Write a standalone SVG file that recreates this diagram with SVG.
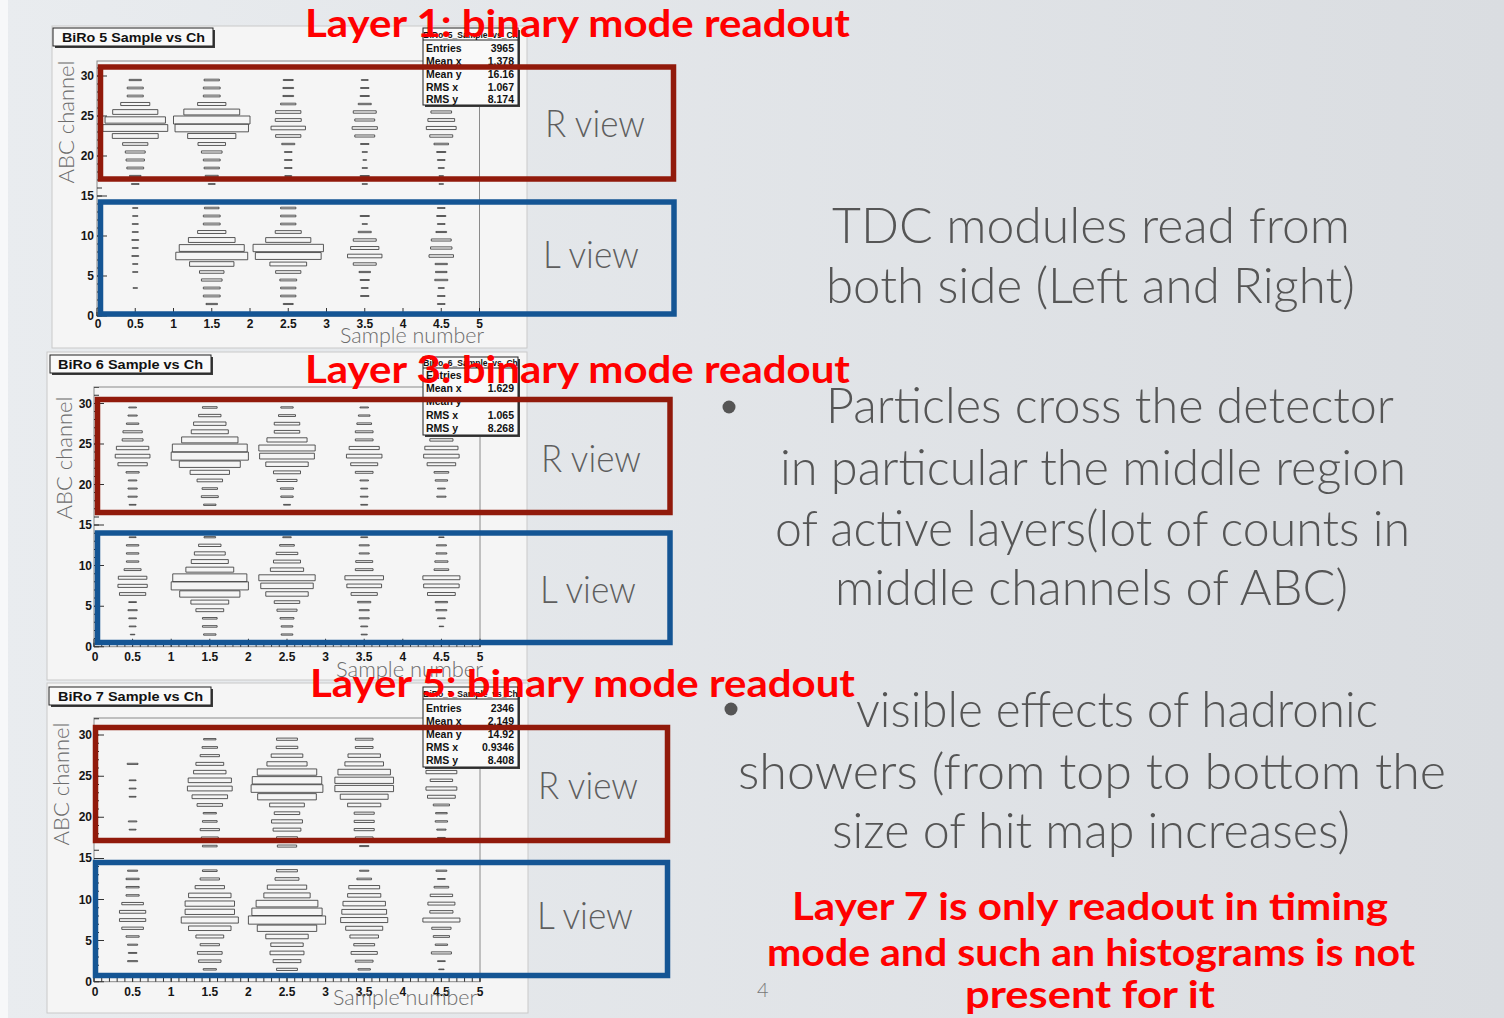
<svg xmlns="http://www.w3.org/2000/svg" xmlns:xlink="http://www.w3.org/1999/xlink" width="1504" height="1018" viewBox="0 0 1504 1018">
<style>
.bx{fill:none;stroke:#3c3c3c;stroke-width:.85;vector-effect:non-scaling-stroke}
.pn{fill:#f5f5f5;stroke:#c9c9c9;stroke-width:1}
.fr{fill:none;stroke:#8a8a8a;stroke-width:1}
.tick{fill:none;stroke:#333}
.tk{font-family:'Liberation Sans',Arial,sans-serif;font-weight:bold;font-size:12px;fill:#151515}
.ty{text-anchor:end}
.tx{text-anchor:middle}
.ax{font-family:Lato,'Open Sans',sans-serif;font-weight:300;font-size:22px;fill:#6c6c6c}
.tb{fill:#f9f9f9;stroke:#222;stroke-width:1}
.sh{fill:#3a3a3a}
.tt{font-family:'Liberation Sans',Arial,sans-serif;font-weight:bold;font-size:13px;fill:#111}
.st{font-family:'Liberation Sans',Arial,sans-serif;font-weight:bold;font-size:10.5px;fill:#111}
.sm{font-family:'Liberation Sans',Arial,sans-serif;font-weight:bold;font-size:8.5px;fill:#111;text-anchor:middle}
.sv{text-anchor:end}
.rb{fill:none;stroke:#911a0b;stroke-width:5.5}
.lb{fill:none;stroke:#145594;stroke-width:5.5}
.vw{font-family:Lato,'Open Sans',sans-serif;font-weight:300;font-size:38px;fill:#5e5e5e}
.red{font-family:Lato,'DejaVu Sans',sans-serif;font-weight:700;font-size:38px;fill:#ff0000}
.gt{font-family:Lato,'Open Sans',sans-serif;font-weight:300;font-size:50px;fill:#555555}
</style>
<defs>
<linearGradient id="bg" x1="0" y1="0" x2="1" y2="0">
<stop offset="0" stop-color="#e9ecef"/>
<stop offset="1" stop-color="#dadde1"/>
</linearGradient>
<rect id="b" class="bx" x="-.5" y="-.5" width="1" height="1"/>
</defs>

<rect x="0" y="0" width="1504" height="1018" fill="url(#bg)"/>
<rect x="0" y="0" width="8" height="1018" fill="#f7f8f9"/>

<!-- Panel 1 -->
<g id="panel1">
<rect class="pn" x="52" y="26" width="475" height="322"/>
<rect class="fr" x="97" y="61" width="382.5" height="255"/>
<path class="tick" stroke-width="4" stroke-dasharray="1 6.65" d="M96.5 314H481"/>
<path class="tick" stroke-width="8" stroke-dasharray="1 37.25" d="M96.5 312H481"/>
<path class="tick" stroke-width="5" stroke-dasharray="1 7" d="M99.5 316.5V61"/>
<path class="tick" stroke-width="10" stroke-dasharray="1 39" d="M102 316.5V61"/>
<g class="tk ty">
<text x="94" y="80">30</text><text x="94" y="120">25</text><text x="94" y="160">20</text><text x="94" y="200">15</text><text x="94" y="240">10</text><text x="94" y="280">5</text><text x="94" y="320">0</text>
</g>
<g class="tk tx">
<text x="98" y="328">0</text><text x="135.3" y="328">0.5</text><text x="173.5" y="328">1</text><text x="211.8" y="328">1.5</text><text x="250" y="328">2</text><text x="288.3" y="328">2.5</text><text x="326.5" y="328">3</text><text x="364.8" y="328">3.5</text><text x="403" y="328">4</text><text x="441.3" y="328">4.5</text><text x="479.5" y="328">5</text>
</g>
<text class="ax" transform="translate(74 122) rotate(-90)" text-anchor="middle">ABC channel</text>
<text class="ax" x="340" y="343" textLength="144" lengthAdjust="spacingAndGlyphs">Sample number</text>
<g transform="translate(97 316) scale(76.5 -8)">
<g transform="translate(.5 .5)">
<use href="#b" transform="translate(0 29)scale(.16)"/><use href="#b" transform="translate(0 28)scale(.21)"/><use href="#b" transform="translate(0 27)scale(.21)"/><use href="#b" transform="translate(0 26)scale(.38)"/><use href="#b" transform="translate(0 25)scale(.59)"/><use href="#b" transform="translate(0 24)scale(.79)"/><use href="#b" transform="translate(0 23)scale(.85)"/><use href="#b" transform="translate(0 22)scale(.6)"/><use href="#b" transform="translate(0 21)scale(.33)"/><use href="#b" transform="translate(0 20)scale(.26)"/><use href="#b" transform="translate(0 19)scale(.24)"/><use href="#b" transform="translate(0 18)scale(.22)"/><use href="#b" transform="translate(0 17)scale(.15)"/><use href="#b" transform="translate(0 16)scale(.1)"/><use href="#b" transform="translate(0 13)scale(.07)"/><use href="#b" transform="translate(0 12)scale(.07)"/><use href="#b" transform="translate(0 11)scale(.08)"/><use href="#b" transform="translate(0 10)scale(.08)"/><use href="#b" transform="translate(0 9)scale(.09)"/><use href="#b" transform="translate(0 8)scale(.08)"/><use href="#b" transform="translate(0 7)scale(.09)"/><use href="#b" transform="translate(0 6)scale(.07)"/><use href="#b" transform="translate(0 5)scale(.07)"/><use href="#b" transform="translate(0 3)scale(.06)"/>
</g>
<g transform="translate(1.5 .5)">
<use href="#b" transform="translate(0 29)scale(.2)"/><use href="#b" transform="translate(0 28)scale(.22)"/><use href="#b" transform="translate(0 27)scale(.22)"/><use href="#b" transform="translate(0 26)scale(.37)"/><use href="#b" transform="translate(0 25)scale(.73)"/><use href="#b" transform="translate(0 24)scale(1)"/><use href="#b" transform="translate(0 23)scale(.96)"/><use href="#b" transform="translate(0 22)scale(.63)"/><use href="#b" transform="translate(0 21)scale(.36)"/><use href="#b" transform="translate(0 20)scale(.27)"/><use href="#b" transform="translate(0 19)scale(.22)"/><use href="#b" transform="translate(0 18)scale(.2)"/><use href="#b" transform="translate(0 17)scale(.17)"/><use href="#b" transform="translate(0 16)scale(.09)"/><use href="#b" transform="translate(0 13)scale(.19)"/><use href="#b" transform="translate(0 12)scale(.22)"/><use href="#b" transform="translate(0 11)scale(.22)"/><use href="#b" transform="translate(0 10)scale(.37)"/><use href="#b" transform="translate(0 9)scale(.61)"/><use href="#b" transform="translate(0 8)scale(.85)"/><use href="#b" transform="translate(0 7)scale(.94)"/><use href="#b" transform="translate(0 6)scale(.58)"/><use href="#b" transform="translate(0 5)scale(.32)"/><use href="#b" transform="translate(0 4)scale(.27)"/><use href="#b" transform="translate(0 3)scale(.22)"/><use href="#b" transform="translate(0 2)scale(.22)"/><use href="#b" transform="translate(0 1)scale(.15)"/>
</g>
<g transform="translate(2.5 .5)">
<use href="#b" transform="translate(0 29)scale(.13)"/><use href="#b" transform="translate(0 28)scale(.14)"/><use href="#b" transform="translate(0 27)scale(.14)"/><use href="#b" transform="translate(0 26)scale(.2)"/><use href="#b" transform="translate(0 25)scale(.33)"/><use href="#b" transform="translate(0 24)scale(.34)"/><use href="#b" transform="translate(0 23)scale(.45)"/><use href="#b" transform="translate(0 22)scale(.33)"/><use href="#b" transform="translate(0 21)scale(.17)"/><use href="#b" transform="translate(0 20)scale(.1)"/><use href="#b" transform="translate(0 19)scale(.1)"/><use href="#b" transform="translate(0 18)scale(.1)"/><use href="#b" transform="translate(0 17)scale(.09)"/><use href="#b" transform="translate(0 13)scale(.2)"/><use href="#b" transform="translate(0 12)scale(.2)"/><use href="#b" transform="translate(0 11)scale(.2)"/><use href="#b" transform="translate(0 10)scale(.34)"/><use href="#b" transform="translate(0 9)scale(.59)"/><use href="#b" transform="translate(0 8)scale(.92)"/><use href="#b" transform="translate(0 7)scale(.86)"/><use href="#b" transform="translate(0 6)scale(.48)"/><use href="#b" transform="translate(0 5)scale(.33)"/><use href="#b" transform="translate(0 4)scale(.22)"/><use href="#b" transform="translate(0 3)scale(.2)"/><use href="#b" transform="translate(0 2)scale(.2)"/><use href="#b" transform="translate(0 1)scale(.13)"/>
</g>
<g transform="translate(3.5 .5)">
<use href="#b" transform="translate(0 29)scale(.09)"/><use href="#b" transform="translate(0 28)scale(.11)"/><use href="#b" transform="translate(0 27)scale(.12)"/><use href="#b" transform="translate(0 26)scale(.17)"/><use href="#b" transform="translate(0 25)scale(.3)"/><use href="#b" transform="translate(0 24)scale(.26)"/><use href="#b" transform="translate(0 23)scale(.33)"/><use href="#b" transform="translate(0 22)scale(.26)"/><use href="#b" transform="translate(0 21)scale(.11)"/><use href="#b" transform="translate(0 20)scale(.07)"/><use href="#b" transform="translate(0 19)scale(.05)"/><use href="#b" transform="translate(0 18)scale(.07)"/><use href="#b" transform="translate(0 17)scale(.12)"/><use href="#b" transform="translate(0 16)scale(.07)"/><use href="#b" transform="translate(0 12)scale(.12)"/><use href="#b" transform="translate(0 11)scale(.07)"/><use href="#b" transform="translate(0 10)scale(.17)"/><use href="#b" transform="translate(0 9)scale(.3)"/><use href="#b" transform="translate(0 8)scale(.37)"/><use href="#b" transform="translate(0 7)scale(.45)"/><use href="#b" transform="translate(0 6)scale(.3)"/><use href="#b" transform="translate(0 5)scale(.15)"/><use href="#b" transform="translate(0 4)scale(.12)"/><use href="#b" transform="translate(0 3)scale(.09)"/><use href="#b" transform="translate(0 2)scale(.11)"/>
</g>
<g transform="translate(4.5 .5)">
<use href="#b" transform="translate(0 25)scale(.27)"/><use href="#b" transform="translate(0 24)scale(.35)"/><use href="#b" transform="translate(0 23)scale(.39)"/><use href="#b" transform="translate(0 22)scale(.3)"/><use href="#b" transform="translate(0 21)scale(.19)"/><use href="#b" transform="translate(0 20)scale(.12)"/><use href="#b" transform="translate(0 19)scale(.1)"/><use href="#b" transform="translate(0 18)scale(.08)"/><use href="#b" transform="translate(0 17)scale(.06)"/><use href="#b" transform="translate(0 16)scale(.06)"/><use href="#b" transform="translate(0 13)scale(.1)"/><use href="#b" transform="translate(0 12)scale(.12)"/><use href="#b" transform="translate(0 11)scale(.1)"/><use href="#b" transform="translate(0 10)scale(.14)"/><use href="#b" transform="translate(0 9)scale(.26)"/><use href="#b" transform="translate(0 8)scale(.28)"/><use href="#b" transform="translate(0 7)scale(.32)"/><use href="#b" transform="translate(0 6)scale(.16)"/><use href="#b" transform="translate(0 5)scale(.15)"/><use href="#b" transform="translate(0 4)scale(.17)"/><use href="#b" transform="translate(0 3)scale(.08)"/><use href="#b" transform="translate(0 2)scale(.1)"/><use href="#b" transform="translate(0 1)scale(.1)"/>
</g>
</g>
<rect class="sh" x="55" y="30" width="160" height="18"/>
<rect class="tb" x="53" y="28" width="160" height="18"/>
<text class="tt" x="62" y="41.5" textLength="143" lengthAdjust="spacingAndGlyphs">BiRo 5 Sample vs Ch</text>
<rect class="sh" x="425" y="30" width="95" height="77"/>
<rect class="tb" x="423" y="28" width="95" height="77"/>
<path d="M423 40H518" stroke="#222" stroke-width="1"/>
<text class="sm" x="470.5" y="37.5">BiRo_5_Sample_vs_Ch</text>
<g class="st">
<text x="426" y="52">Entries</text><text class="sv" x="514" y="52">3965</text>
<text x="426" y="64.5">Mean x</text><text class="sv" x="514" y="64.5">1.378</text>
<text x="426" y="77.5">Mean y</text><text class="sv" x="514" y="77.5">16.16</text>
<text x="426" y="90.5">RMS x</text><text class="sv" x="514" y="90.5">1.067</text>
<text x="426" y="102.5">RMS y</text><text class="sv" x="514" y="102.5">8.174</text>
</g>
</g>

<!-- Panel 2 -->
<g id="panel2">
<rect class="pn" x="47" y="352" width="480" height="328"/>
<rect class="fr" x="94" y="387" width="386" height="259.7"/>
<path class="tick" stroke-width="4" stroke-dasharray="1 6.72" d="M93.5 644.7H482"/>
<path class="tick" stroke-width="8" stroke-dasharray="1 37.6" d="M93.5 642.7H482"/>
<path class="tick" stroke-width="5" stroke-dasharray="1 7.11" d="M96.5 647.2V387"/>
<path class="tick" stroke-width="10" stroke-dasharray="1 39.55" d="M99 647.2V387"/>
<g class="tk ty">
<text x="92" y="407.5">30</text><text x="92" y="448">25</text><text x="92" y="488.5">20</text><text x="92" y="529">15</text><text x="92" y="569.5">10</text><text x="92" y="610">5</text><text x="92" y="651">0</text>
</g>
<g class="tk tx">
<text x="95" y="661">0</text><text x="132.6" y="661">0.5</text><text x="171.2" y="661">1</text><text x="209.8" y="661">1.5</text><text x="248.4" y="661">2</text><text x="287" y="661">2.5</text><text x="325.6" y="661">3</text><text x="364.2" y="661">3.5</text><text x="402.8" y="661">4</text><text x="441.4" y="661">4.5</text><text x="480" y="661">5</text>
</g>
<text class="ax" transform="translate(72 458) rotate(-90)" text-anchor="middle">ABC channel</text>
<text class="ax" x="336" y="677" textLength="147" lengthAdjust="spacingAndGlyphs">Sample number</text>
<g transform="translate(94 646.7) scale(77.2 -8.11)">
<g transform="translate(.5 .5)">
<use href="#b" transform="translate(0 29)scale(.1)"/><use href="#b" transform="translate(0 28)scale(.12)"/><use href="#b" transform="translate(0 27)scale(.16)"/><use href="#b" transform="translate(0 26)scale(.25)"/><use href="#b" transform="translate(0 25)scale(.27)"/><use href="#b" transform="translate(0 24)scale(.42)"/><use href="#b" transform="translate(0 23)scale(.45)"/><use href="#b" transform="translate(0 22)scale(.38)"/><use href="#b" transform="translate(0 21)scale(.17)"/><use href="#b" transform="translate(0 20)scale(.11)"/><use href="#b" transform="translate(0 19)scale(.12)"/><use href="#b" transform="translate(0 18)scale(.12)"/><use href="#b" transform="translate(0 17)scale(.09)"/><use href="#b" transform="translate(0 13)scale(.09)"/><use href="#b" transform="translate(0 12)scale(.16)"/><use href="#b" transform="translate(0 11)scale(.16)"/><use href="#b" transform="translate(0 10)scale(.16)"/><use href="#b" transform="translate(0 9)scale(.22)"/><use href="#b" transform="translate(0 8)scale(.37)"/><use href="#b" transform="translate(0 7)scale(.38)"/><use href="#b" transform="translate(0 6)scale(.34)"/><use href="#b" transform="translate(0 5)scale(.1)"/><use href="#b" transform="translate(0 4)scale(.12)"/><use href="#b" transform="translate(0 3)scale(.1)"/><use href="#b" transform="translate(0 2)scale(.09)"/><use href="#b" transform="translate(0 1)scale(.06)"/>
</g>
<g transform="translate(1.5 .5)">
<use href="#b" transform="translate(0 29)scale(.19)"/><use href="#b" transform="translate(0 28)scale(.29)"/><use href="#b" transform="translate(0 27)scale(.42)"/><use href="#b" transform="translate(0 26)scale(.48)"/><use href="#b" transform="translate(0 25)scale(.73)"/><use href="#b" transform="translate(0 24)scale(.97)"/><use href="#b" transform="translate(0 23)scale(1)"/><use href="#b" transform="translate(0 22)scale(.79)"/><use href="#b" transform="translate(0 21)scale(.51)"/><use href="#b" transform="translate(0 20)scale(.33)"/><use href="#b" transform="translate(0 19)scale(.2)"/><use href="#b" transform="translate(0 18)scale(.22)"/><use href="#b" transform="translate(0 17)scale(.16)"/><use href="#b" transform="translate(0 13)scale(.15)"/><use href="#b" transform="translate(0 12)scale(.29)"/><use href="#b" transform="translate(0 11)scale(.4)"/><use href="#b" transform="translate(0 10)scale(.48)"/><use href="#b" transform="translate(0 9)scale(.62)"/><use href="#b" transform="translate(0 8)scale(.96)"/><use href="#b" transform="translate(0 7)scale(1)"/><use href="#b" transform="translate(0 6)scale(.78)"/><use href="#b" transform="translate(0 5)scale(.49)"/><use href="#b" transform="translate(0 4)scale(.36)"/><use href="#b" transform="translate(0 3)scale(.19)"/><use href="#b" transform="translate(0 2)scale(.19)"/><use href="#b" transform="translate(0 1)scale(.16)"/>
</g>
<g transform="translate(2.5 .5)">
<use href="#b" transform="translate(0 29)scale(.16)"/><use href="#b" transform="translate(0 28)scale(.22)"/><use href="#b" transform="translate(0 27)scale(.33)"/><use href="#b" transform="translate(0 26)scale(.33)"/><use href="#b" transform="translate(0 25)scale(.52)"/><use href="#b" transform="translate(0 24)scale(.73)"/><use href="#b" transform="translate(0 23)scale(.71)"/><use href="#b" transform="translate(0 22)scale(.55)"/><use href="#b" transform="translate(0 21)scale(.35)"/><use href="#b" transform="translate(0 20)scale(.26)"/><use href="#b" transform="translate(0 19)scale(.17)"/><use href="#b" transform="translate(0 18)scale(.16)"/><use href="#b" transform="translate(0 17)scale(.09)"/><use href="#b" transform="translate(0 13)scale(.11)"/><use href="#b" transform="translate(0 12)scale(.19)"/><use href="#b" transform="translate(0 11)scale(.28)"/><use href="#b" transform="translate(0 10)scale(.35)"/><use href="#b" transform="translate(0 9)scale(.43)"/><use href="#b" transform="translate(0 8)scale(.73)"/><use href="#b" transform="translate(0 7)scale(.68)"/><use href="#b" transform="translate(0 6)scale(.55)"/><use href="#b" transform="translate(0 5)scale(.33)"/><use href="#b" transform="translate(0 4)scale(.26)"/><use href="#b" transform="translate(0 3)scale(.18)"/><use href="#b" transform="translate(0 2)scale(.15)"/><use href="#b" transform="translate(0 1)scale(.15)"/>
</g>
<g transform="translate(3.5 .5)">
<use href="#b" transform="translate(0 29)scale(.11)"/><use href="#b" transform="translate(0 28)scale(.15)"/><use href="#b" transform="translate(0 27)scale(.19)"/><use href="#b" transform="translate(0 26)scale(.23)"/><use href="#b" transform="translate(0 25)scale(.23)"/><use href="#b" transform="translate(0 24)scale(.39)"/><use href="#b" transform="translate(0 23)scale(.46)"/><use href="#b" transform="translate(0 22)scale(.35)"/><use href="#b" transform="translate(0 21)scale(.23)"/><use href="#b" transform="translate(0 20)scale(.11)"/><use href="#b" transform="translate(0 19)scale(.09)"/><use href="#b" transform="translate(0 18)scale(.1)"/><use href="#b" transform="translate(0 17)scale(.09)"/><use href="#b" transform="translate(0 13)scale(.09)"/><use href="#b" transform="translate(0 12)scale(.13)"/><use href="#b" transform="translate(0 11)scale(.13)"/><use href="#b" transform="translate(0 10)scale(.22)"/><use href="#b" transform="translate(0 9)scale(.23)"/><use href="#b" transform="translate(0 8)scale(.5)"/><use href="#b" transform="translate(0 7)scale(.45)"/><use href="#b" transform="translate(0 6)scale(.34)"/><use href="#b" transform="translate(0 5)scale(.17)"/><use href="#b" transform="translate(0 4)scale(.13)"/><use href="#b" transform="translate(0 3)scale(.13)"/><use href="#b" transform="translate(0 2)scale(.09)"/><use href="#b" transform="translate(0 1)scale(.08)"/>
</g>
<g transform="translate(4.5 .5)">
<use href="#b" transform="translate(0 25)scale(.3)"/><use href="#b" transform="translate(0 24)scale(.43)"/><use href="#b" transform="translate(0 23)scale(.46)"/><use href="#b" transform="translate(0 22)scale(.37)"/><use href="#b" transform="translate(0 21)scale(.19)"/><use href="#b" transform="translate(0 20)scale(.16)"/><use href="#b" transform="translate(0 19)scale(.1)"/><use href="#b" transform="translate(0 18)scale(.12)"/><use href="#b" transform="translate(0 13)scale(.07)"/><use href="#b" transform="translate(0 12)scale(.13)"/><use href="#b" transform="translate(0 11)scale(.14)"/><use href="#b" transform="translate(0 10)scale(.17)"/><use href="#b" transform="translate(0 9)scale(.19)"/><use href="#b" transform="translate(0 8)scale(.48)"/><use href="#b" transform="translate(0 7)scale(.46)"/><use href="#b" transform="translate(0 6)scale(.36)"/><use href="#b" transform="translate(0 5)scale(.16)"/><use href="#b" transform="translate(0 4)scale(.14)"/><use href="#b" transform="translate(0 3)scale(.1)"/><use href="#b" transform="translate(0 2)scale(.06)"/>
</g>
</g>
<rect class="sh" x="52" y="357" width="161" height="18"/>
<rect class="tb" x="50" y="355" width="161" height="18"/>
<text class="tt" x="58" y="368.5" textLength="145" lengthAdjust="spacingAndGlyphs">BiRo 6 Sample vs Ch</text>
<rect class="sh" x="425" y="359" width="95" height="78"/>
<rect class="tb" x="423" y="357" width="95" height="78"/>
<path d="M423 368H518" stroke="#222" stroke-width="1"/>
<text class="sm" x="470.5" y="365.5">BiRo_6_Sample_vs_Ch</text>
<g class="st">
<text x="426" y="379">Entries</text>
<text x="426" y="391.5">Mean x</text><text class="sv" x="514" y="391.5">1.629</text>
<text x="426" y="405">Mean y</text>
<text x="426" y="419">RMS x</text><text class="sv" x="514" y="419">1.065</text>
<text x="426" y="431.5">RMS y</text><text class="sv" x="514" y="431.5">8.268</text>
</g>
</g>

<!-- Panel 3 -->
<g id="panel3">
<rect class="pn" x="47" y="683" width="481" height="330"/>
<rect class="fr" x="94" y="718" width="386" height="263.7"/>
<path class="tick" stroke-width="4" stroke-dasharray="1 6.72" d="M93.5 979.7H482"/>
<path class="tick" stroke-width="8" stroke-dasharray="1 37.6" d="M93.5 977.7H482"/>
<path class="tick" stroke-width="5" stroke-dasharray="1 7.22" d="M96.5 982.2V718"/>
<path class="tick" stroke-width="10" stroke-dasharray="1 40.1" d="M99 982.2V718"/>
<g class="tk ty">
<text x="92" y="739">30</text><text x="92" y="780">25</text><text x="92" y="821">20</text><text x="92" y="862">15</text><text x="92" y="903.5">10</text><text x="92" y="944.5">5</text><text x="92" y="986">0</text>
</g>
<g class="tk tx">
<text x="95" y="996">0</text><text x="132.6" y="996">0.5</text><text x="171.2" y="996">1</text><text x="209.8" y="996">1.5</text><text x="248.4" y="996">2</text><text x="287" y="996">2.5</text><text x="325.6" y="996">3</text><text x="364.2" y="996">3.5</text><text x="402.8" y="996">4</text><text x="441.4" y="996">4.5</text><text x="480" y="996">5</text>
</g>
<text class="ax" transform="translate(69 784) rotate(-90)" text-anchor="middle">ABC channel</text>
<text class="ax" x="333" y="1005" textLength="144" lengthAdjust="spacingAndGlyphs">Sample number</text>
<g transform="translate(94 981.7) scale(77.2 -8.22)">
<g transform="translate(.5 .5)">
<use href="#b" transform="translate(0 26)scale(.14)"/><use href="#b" transform="translate(0 24)scale(.09)"/><use href="#b" transform="translate(0 23)scale(.09)"/><use href="#b" transform="translate(0 22)scale(.09)"/><use href="#b" transform="translate(0 19)scale(.11)"/><use href="#b" transform="translate(0 18)scale(.09)"/><use href="#b" transform="translate(0 13)scale(.13)"/><use href="#b" transform="translate(0 12)scale(.17)"/><use href="#b" transform="translate(0 11)scale(.17)"/><use href="#b" transform="translate(0 10)scale(.17)"/><use href="#b" transform="translate(0 9)scale(.28)"/><use href="#b" transform="translate(0 8)scale(.34)"/><use href="#b" transform="translate(0 7)scale(.34)"/><use href="#b" transform="translate(0 6)scale(.28)"/><use href="#b" transform="translate(0 5)scale(.17)"/><use href="#b" transform="translate(0 4)scale(.13)"/><use href="#b" transform="translate(0 3)scale(.11)"/><use href="#b" transform="translate(0 2)scale(.13)"/>
</g>
<g transform="translate(1.5 .5)">
<use href="#b" transform="translate(0 29)scale(.16)"/><use href="#b" transform="translate(0 28)scale(.2)"/><use href="#b" transform="translate(0 27)scale(.25)"/><use href="#b" transform="translate(0 26)scale(.36)"/><use href="#b" transform="translate(0 25)scale(.42)"/><use href="#b" transform="translate(0 24)scale(.56)"/><use href="#b" transform="translate(0 23)scale(.58)"/><use href="#b" transform="translate(0 22)scale(.46)"/><use href="#b" transform="translate(0 21)scale(.33)"/><use href="#b" transform="translate(0 20)scale(.17)"/><use href="#b" transform="translate(0 19)scale(.19)"/><use href="#b" transform="translate(0 18)scale(.25)"/><use href="#b" transform="translate(0 17)scale(.22)"/><use href="#b" transform="translate(0 16)scale(.19)"/><use href="#b" transform="translate(0 13)scale(.19)"/><use href="#b" transform="translate(0 12)scale(.25)"/><use href="#b" transform="translate(0 11)scale(.38)"/><use href="#b" transform="translate(0 10)scale(.55)"/><use href="#b" transform="translate(0 9)scale(.64)"/><use href="#b" transform="translate(0 8)scale(.64)"/><use href="#b" transform="translate(0 7)scale(.74)"/><use href="#b" transform="translate(0 6)scale(.55)"/><use href="#b" transform="translate(0 5)scale(.36)"/><use href="#b" transform="translate(0 4)scale(.25)"/><use href="#b" transform="translate(0 3)scale(.32)"/><use href="#b" transform="translate(0 2)scale(.29)"/><use href="#b" transform="translate(0 1)scale(.17)"/>
</g>
<g transform="translate(2.5 .5)">
<use href="#b" transform="translate(0 29)scale(.27)"/><use href="#b" transform="translate(0 28)scale(.28)"/><use href="#b" transform="translate(0 27)scale(.41)"/><use href="#b" transform="translate(0 26)scale(.52)"/><use href="#b" transform="translate(0 25)scale(.77)"/><use href="#b" transform="translate(0 24)scale(.9)"/><use href="#b" transform="translate(0 23)scale(.93)"/><use href="#b" transform="translate(0 22)scale(.76)"/><use href="#b" transform="translate(0 21)scale(.45)"/><use href="#b" transform="translate(0 20)scale(.33)"/><use href="#b" transform="translate(0 19)scale(.4)"/><use href="#b" transform="translate(0 18)scale(.36)"/><use href="#b" transform="translate(0 17)scale(.27)"/><use href="#b" transform="translate(0 16)scale(.25)"/><use href="#b" transform="translate(0 13)scale(.27)"/><use href="#b" transform="translate(0 12)scale(.31)"/><use href="#b" transform="translate(0 11)scale(.51)"/><use href="#b" transform="translate(0 10)scale(.6)"/><use href="#b" transform="translate(0 9)scale(.8)"/><use href="#b" transform="translate(0 8)scale(.91)"/><use href="#b" transform="translate(0 7)scale(1)"/><use href="#b" transform="translate(0 6)scale(.77)"/><use href="#b" transform="translate(0 5)scale(.55)"/><use href="#b" transform="translate(0 4)scale(.42)"/><use href="#b" transform="translate(0 3)scale(.44)"/><use href="#b" transform="translate(0 2)scale(.36)"/><use href="#b" transform="translate(0 1)scale(.27)"/>
</g>
<g transform="translate(3.5 .5)">
<use href="#b" transform="translate(0 29)scale(.23)"/><use href="#b" transform="translate(0 28)scale(.23)"/><use href="#b" transform="translate(0 27)scale(.42)"/><use href="#b" transform="translate(0 26)scale(.5)"/><use href="#b" transform="translate(0 25)scale(.68)"/><use href="#b" transform="translate(0 24)scale(.76)"/><use href="#b" transform="translate(0 23)scale(.76)"/><use href="#b" transform="translate(0 22)scale(.62)"/><use href="#b" transform="translate(0 21)scale(.43)"/><use href="#b" transform="translate(0 20)scale(.26)"/><use href="#b" transform="translate(0 19)scale(.26)"/><use href="#b" transform="translate(0 18)scale(.26)"/><use href="#b" transform="translate(0 17)scale(.23)"/><use href="#b" transform="translate(0 16)scale(.12)"/><use href="#b" transform="translate(0 13)scale(.12)"/><use href="#b" transform="translate(0 12)scale(.19)"/><use href="#b" transform="translate(0 11)scale(.4)"/><use href="#b" transform="translate(0 10)scale(.43)"/><use href="#b" transform="translate(0 9)scale(.55)"/><use href="#b" transform="translate(0 8)scale(.58)"/><use href="#b" transform="translate(0 7)scale(.61)"/><use href="#b" transform="translate(0 6)scale(.48)"/><use href="#b" transform="translate(0 5)scale(.37)"/><use href="#b" transform="translate(0 4)scale(.27)"/><use href="#b" transform="translate(0 3)scale(.34)"/><use href="#b" transform="translate(0 2)scale(.23)"/><use href="#b" transform="translate(0 1)scale(.16)"/>
</g>
<g transform="translate(4.5 .5)">
<use href="#b" transform="translate(0 25)scale(.4)"/><use href="#b" transform="translate(0 24)scale(.29)"/><use href="#b" transform="translate(0 23)scale(.4)"/><use href="#b" transform="translate(0 22)scale(.36)"/><use href="#b" transform="translate(0 21)scale(.21)"/><use href="#b" transform="translate(0 20)scale(.15)"/><use href="#b" transform="translate(0 19)scale(.16)"/><use href="#b" transform="translate(0 18)scale(.12)"/><use href="#b" transform="translate(0 17)scale(.1)"/><use href="#b" transform="translate(0 13)scale(.14)"/><use href="#b" transform="translate(0 12)scale(.1)"/><use href="#b" transform="translate(0 11)scale(.19)"/><use href="#b" transform="translate(0 10)scale(.29)"/><use href="#b" transform="translate(0 9)scale(.35)"/><use href="#b" transform="translate(0 8)scale(.3)"/><use href="#b" transform="translate(0 7)scale(.48)"/><use href="#b" transform="translate(0 6)scale(.25)"/><use href="#b" transform="translate(0 5)scale(.21)"/><use href="#b" transform="translate(0 4)scale(.16)"/><use href="#b" transform="translate(0 3)scale(.26)"/><use href="#b" transform="translate(0 2)scale(.1)"/><use href="#b" transform="translate(0 1)scale(.07)"/>
</g>
</g>
<rect class="sh" x="51" y="689" width="162" height="18"/>
<rect class="tb" x="49" y="687" width="162" height="18"/>
<text class="tt" x="58" y="700.5" textLength="145" lengthAdjust="spacingAndGlyphs">BiRo 7 Sample vs Ch</text>
<rect class="sh" x="425" y="689" width="95" height="80"/>
<rect class="tb" x="423" y="687" width="95" height="80"/>
<path d="M423 699H518" stroke="#222" stroke-width="1"/>
<text class="sm" x="470.5" y="697">BiRo_7_Sample_vs_Ch</text>
<g class="st">
<text x="426" y="711.5">Entries</text><text class="sv" x="514" y="711.5">2346</text>
<text x="426" y="724.5">Mean x</text><text class="sv" x="514" y="724.5">2.149</text>
<text x="426" y="737.5">Mean y</text><text class="sv" x="514" y="737.5">14.92</text>
<text x="426" y="750.5">RMS x</text><text class="sv" x="514" y="750.5">0.9346</text>
<text x="426" y="763.5">RMS y</text><text class="sv" x="514" y="763.5">8.408</text>
</g>
</g>

<!-- view frames -->
<g id="views">
<rect class="rb" x="100.5" y="67" width="573" height="112"/>
<rect class="lb" x="100.5" y="202" width="573.5" height="112"/>
<rect class="rb" x="97.5" y="399.5" width="572.5" height="113"/>
<rect class="lb" x="97.5" y="533" width="572.5" height="109.5"/>
<rect class="rb" x="95.5" y="727.5" width="572" height="113"/>
<rect class="lb" x="95.5" y="862.5" width="572" height="113"/>
<text class="vw" x="545" y="137" textLength="100" lengthAdjust="spacingAndGlyphs">R view</text>
<text class="vw" x="543" y="268" textLength="96" lengthAdjust="spacingAndGlyphs">L view</text>
<text class="vw" x="541" y="472" textLength="100" lengthAdjust="spacingAndGlyphs">R view</text>
<text class="vw" x="540" y="603" textLength="96" lengthAdjust="spacingAndGlyphs">L view</text>
<text class="vw" x="538" y="799" textLength="100" lengthAdjust="spacingAndGlyphs">R view</text>
<text class="vw" x="537" y="929" textLength="96" lengthAdjust="spacingAndGlyphs">L view</text>
</g>

<!-- red layer labels -->
<g id="layer-labels">
<text class="red" x="305" y="37" textLength="545" lengthAdjust="spacingAndGlyphs">Layer 1: binary mode readout</text>
<text class="red" x="305" y="383" textLength="545" lengthAdjust="spacingAndGlyphs">Layer 3: binary mode readout</text>
<text class="red" x="310" y="697" textLength="545" lengthAdjust="spacingAndGlyphs">Layer 5: binary mode readout</text>
</g>

<!-- right-hand text -->
<g id="notes">
<text class="gt" x="832" y="243" textLength="518" lengthAdjust="spacingAndGlyphs">TDC modules read from</text>
<text class="gt" x="826" y="303" textLength="529" lengthAdjust="spacingAndGlyphs">both side (Left and Right)</text>
<circle cx="729" cy="407" r="6.5" fill="#555"/>
<text class="gt" x="826" y="423" textLength="568" lengthAdjust="spacingAndGlyphs">Particles cross the detector</text>
<text class="gt" x="780" y="485" textLength="626" lengthAdjust="spacingAndGlyphs">in particular the middle region</text>
<text class="gt" x="775" y="546" textLength="635" lengthAdjust="spacingAndGlyphs">of active layers(lot of counts in</text>
<text class="gt" x="835" y="605" textLength="513" lengthAdjust="spacingAndGlyphs">middle channels of ABC)</text>
<circle cx="731" cy="709" r="6.5" fill="#555"/>
<text class="gt" x="856" y="727" textLength="522" lengthAdjust="spacingAndGlyphs">visible effects of hadronic</text>
<text class="gt" x="738" y="789" textLength="708" lengthAdjust="spacingAndGlyphs">showers (from top to bottom the</text>
<text class="gt" x="832" y="848" textLength="518" lengthAdjust="spacingAndGlyphs">size of hit map increases)</text>
<text class="red" x="792" y="920" textLength="596" lengthAdjust="spacingAndGlyphs">Layer 7 is only readout in timing</text>
<text class="red" x="767" y="966" textLength="648" lengthAdjust="spacingAndGlyphs">mode and such an histograms is not</text>
<text class="red" x="965" y="1008" textLength="250" lengthAdjust="spacingAndGlyphs">present for it</text>
<text x="757" y="997" font-family="Lato,'Open Sans',sans-serif" font-weight="300" font-size="20" fill="#777">4</text>
</g>
</svg>
